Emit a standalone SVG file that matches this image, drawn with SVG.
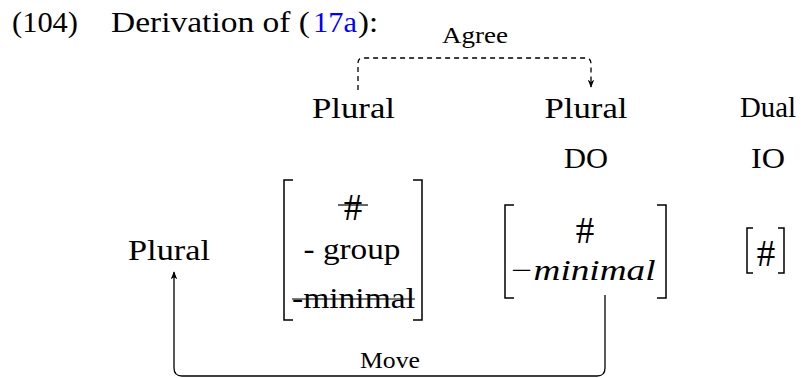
<svg xmlns="http://www.w3.org/2000/svg" width="811" height="378" viewBox="0 0 811 378" font-family="'Liberation Serif', 'DejaVu Serif', serif">
<style>
text{font-family:'Liberation Serif','DejaVu Serif',serif;fill:#000}
.m{font-size:29px}
.s{font-size:23px}
.it{font-style:italic}
.hash{font-size:37px}
.br{fill:none;stroke:#000;stroke-width:1.5}
.strike{stroke:#000;stroke-width:1.2}
.conn{fill:none;stroke:#000;stroke-width:1.3}
</style>
<defs>
<marker id="ah" viewBox="0 0 10 10" refX="9" refY="5" markerWidth="8" markerHeight="8" markerUnits="userSpaceOnUse" orient="auto">
<path d="M0,1 L10,5 L0,9 L2.5,5 Z" fill="#000"/>
</marker>
</defs>
<rect width="811" height="378" fill="#fff"/>
<g id="title">
<text class="m" x="12" y="32" textLength="66" lengthAdjust="spacingAndGlyphs">(104)</text>
<text class="m" x="111" y="32" textLength="199" lengthAdjust="spacingAndGlyphs">Derivation of (</text>
<text class="m" x="313" y="32" fill="#0000ff" style="fill:#0000ff" textLength="44" lengthAdjust="spacingAndGlyphs">17a</text>
<text class="m" x="358" y="32" textLength="20" lengthAdjust="spacingAndGlyphs">):</text>
</g>
<g id="plural-top-left"><text class="m" x="353.5" y="118" text-anchor="middle" textLength="83" lengthAdjust="spacingAndGlyphs">Plural</text></g>
<g id="plural-top-mid">
<text class="m" x="586" y="118" text-anchor="middle" textLength="83" lengthAdjust="spacingAndGlyphs">Plural</text>
<text class="m" x="586" y="168" text-anchor="middle" textLength="44" lengthAdjust="spacingAndGlyphs">DO</text>
</g>
<g id="dual">
<text class="m" x="768" y="117" text-anchor="middle" textLength="56" lengthAdjust="spacingAndGlyphs">Dual</text>
<text class="m" x="768" y="168" text-anchor="middle" textLength="34" lengthAdjust="spacingAndGlyphs">IO</text>
</g>
<g id="plural-left"><text class="m" x="169" y="260" text-anchor="middle" textLength="82" lengthAdjust="spacingAndGlyphs">Plural</text></g>
<g id="matrix1">
<path class="br" d="M293,180 H284 V320 H293"/>
<path class="br" d="M413,180 H422 V320 H413"/>
<text class="m hash" x="353" y="220" text-anchor="middle">#</text>
<line class="strike" x1="338" y1="205" x2="368" y2="205"/>
<text class="m" x="352" y="259" text-anchor="middle" textLength="97" lengthAdjust="spacingAndGlyphs">- group</text>
<text class="m" x="353.5" y="308" text-anchor="middle" textLength="123" lengthAdjust="spacingAndGlyphs">-minimal</text>
<line class="strike" x1="292" y1="299" x2="415" y2="299"/>
</g>
<g id="matrix2">
<path class="br" d="M514,205 H505 V298 H514"/>
<path class="br" d="M657,205 H666 V298 H657"/>
<text class="m hash" x="585" y="243" text-anchor="middle">#</text>
<text class="m it" x="582" y="280" text-anchor="middle" textLength="147" lengthAdjust="spacingAndGlyphs">−minimal</text>
</g>
<g id="matrix3">
<path class="br" d="M753,228 H747 V273 H753"/>
<path class="br" d="M778,228 H784 V273 H778"/>
<text class="m hash" x="766" y="266" text-anchor="middle">#</text>
</g>
<g id="connectors">
<path class="conn" stroke-dasharray="5,4" marker-end="url(#ah)" d="M358,90 V63 Q358,58 363,58 H586 Q591,58 591,64 V87"/>
<text class="s" x="475" y="43" text-anchor="middle" textLength="66" lengthAdjust="spacingAndGlyphs">Agree</text>
<path class="conn" marker-end="url(#ah)" d="M605,295 V368 Q605,376 597,376 H182 Q174,376 174,368 V272"/>
<text class="s" x="390" y="368" text-anchor="middle" textLength="60" lengthAdjust="spacingAndGlyphs">Move</text>
</g>
</svg>
